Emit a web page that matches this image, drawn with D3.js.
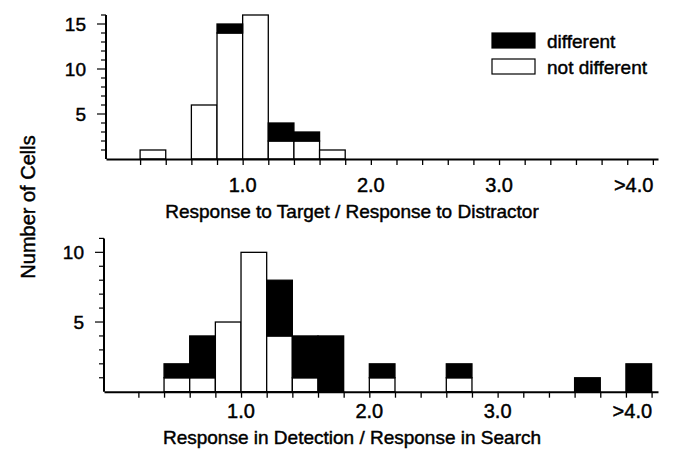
<!DOCTYPE html>
<html>
	<head>
		<meta http-equiv='Content-Type' content='text/html;charset=utf-8'/>
		<title>Number of Cells</title>
		<script src='https://d3js.org/d3.v7.min.js'></script>
		<style>
		body {
			margin: 0;
			background: #ffffff;
		}

		text {
			font-family: 'Liberation Sans', Arial, sans-serif;
			fill: #000000;
			stroke: #000000;
			stroke-width: 0.45px;
		}

		.bar {
			stroke: #000000;
			stroke-width: 1.3px;
		}
		</style>
	</head>

	<body>
	<script>
	'use strict'

		// bins are 0.2 wide, value is the left edge of the bin
		const binWidth = 0.2

		const topBins = [0.2, 0.6, 0.8, 1.0, 1.2, 1.4, 1.6]
		const topNotDifferent = [1, 6, 14, 16, 2, 2, 1]
		const topDifferent = [0, 0, 1, 0, 2, 1, 0]

		const bottomBins = [0.4, 0.6, 0.8, 1.0, 1.2, 1.4, 1.6, 2.0, 2.6, 3.6, 4.0]
		const bottomNotDifferent = [1, 1, 5, 10, 4, 1, 0, 1, 1, 0, 0]
		const bottomDifferent = [1, 3, 0, 0, 4, 3, 4, 1, 1, 1, 2]

		const xTickValues = [1, 2, 3, 4.05]
		const xTickLabels = ['1.0', '2.0', '3.0', '>4.0']
		const topYLabels = [5, 10, 15]
		const bottomYLabels = [5, 10]

		const legendLabels = ['different', 'not different']

		const svg = d3.select('body').append('svg')
			.attr('width', 675)
			.attr('height', 459)

		svg.append('rect')
			.attr('width', '100%')
			.attr('height', '100%')
			.attr('fill', '#ffffff')

		drawPanel({
			bins: topBins, notDiff: topNotDifferent, diff: topDifferent,
			xDomain: [-0.066, 4.24], xRange: [106, 658],
			yMax: 16, yRange: [159, 15], yLabels: topYLabels,
			tickBaseline: 192, title: 'Response to Target / Response to Distractor', titleBaseline: 218
		})

		drawPanel({
			bins: bottomBins, notDiff: bottomNotDifferent, diff: bottomDifferent,
			xDomain: [-0.068, 4.25], xRange: [104, 658],
			yMax: 11, yRange: [391.7, 238.4], yLabels: bottomYLabels,
			tickBaseline: 418, title: 'Response in Detection / Response in Search', titleBaseline: 444
		})

		// shared y axis title
		svg.append('text')
			.attr('transform', 'translate(35,207) rotate(-90)')
			.attr('text-anchor', 'middle')
			.style('font-size', '20px')
			.text('Number of Cells')

		drawLegend()

		/**
		 * drawPanel
		 * One stacked histogram with its axes.
		 */
		function drawPanel(p)
		{
			const x = d3.scaleLinear().domain(p.xDomain).range(p.xRange)
			const y = d3.scaleLinear().domain([0, p.yMax]).range(p.yRange)
			const g = svg.append('g')

			// not different part, from the baseline up
			g.selectAll('.nd')
				.data(p.bins)
				.enter().append('rect')
				.attr('class', 'bar')
				.attr('x', d => x(d))
				.attr('width', d => x(d + binWidth) - x(d))
				.attr('y', (d, i) => y(p.notDiff[i]))
				.attr('height', (d, i) => y(0) - y(p.notDiff[i]))
				.attr('fill', '#ffffff')

			// different part, stacked on top
			g.selectAll('.df')
				.data(p.bins)
				.enter().append('rect')
				.attr('class', 'bar')
				.attr('x', d => x(d))
				.attr('width', d => x(d + binWidth) - x(d))
				.attr('y', (d, i) => y(p.notDiff[i] + p.diff[i]))
				.attr('height', (d, i) => y(p.notDiff[i]) - y(p.notDiff[i] + p.diff[i]))
				.attr('fill', '#000000')

			// x axis, ticks every bin edge
			const xAxis = d3.axisBottom(x)
				.tickValues(d3.range(1, 22).map(i => i * binWidth))
				.tickSize(6)
				.tickSizeOuter(0)
				.tickFormat('')
			const ga = g.append('g')
				.attr('transform', 'translate(0,' + y(0) + ')')
				.call(xAxis)
			ga.select('.domain').attr('stroke-width', 2)
			ga.selectAll('.tick line').attr('stroke-width', 1.3)

			g.selectAll('.xl')
				.data(xTickValues)
				.enter().append('text')
				.attr('x', d => x(d))
				.attr('y', p.tickBaseline)
				.attr('text-anchor', 'middle')
				.style('font-size', '20px')
				.text((d, i) => xTickLabels[i])

			g.append('text')
				.attr('x', 352)
				.attr('y', p.titleBaseline)
				.attr('text-anchor', 'middle')
				.style('font-size', '19px')
				.text(p.title)

			// y axis, minor ticks every cell, longer ones where labelled
			const x0 = p.xRange[0]
			g.append('line')
				.attr('x1', x0).attr('x2', x0)
				.attr('y1', y(0)).attr('y2', y(p.yMax))
				.attr('stroke', '#000000')
				.attr('stroke-width', 2)

			g.selectAll('.yt')
				.data(d3.range(1, p.yMax + 1))
				.enter().append('line')
				.attr('x1', d => p.yLabels.includes(d) ? x0 - 9 : x0 - 5)
				.attr('x2', x0)
				.attr('y1', d => y(d))
				.attr('y2', d => y(d))
				.attr('stroke', '#000000')
				.attr('stroke-width', 1.2)

			g.selectAll('.yl')
				.data(p.yLabels)
				.enter().append('text')
				.attr('x', x0 - 20)
				.attr('y', d => y(d))
				.attr('dy', '0.35em')
				.attr('text-anchor', 'end')
				.style('font-size', '19px')
				.text(d => d)
		}

		/**
		 * drawLegend
		 * Black and white swatches top right.
		 */
		function drawLegend()
		{
			const fills = ['#000000', '#ffffff']
			const lg = svg.append('g')
				.attr('transform', 'translate(492,33)')

			lg.selectAll('rect')
				.data(legendLabels)
				.enter().append('rect')
				.attr('x', 0)
				.attr('y', (d, i) => i * 26)
				.attr('width', 43)
				.attr('height', 15)
				.attr('fill', (d, i) => fills[i])
				.attr('stroke', '#000000')
				.attr('stroke-width', 1.2)

			lg.selectAll('text')
				.data(legendLabels)
				.enter().append('text')
				.attr('x', 55)
				.attr('y', (d, i) => i * 26 + 15)
				.style('font-size', '19px')
				.text(d => d)
		}
	</script>
	</body>
</html>
